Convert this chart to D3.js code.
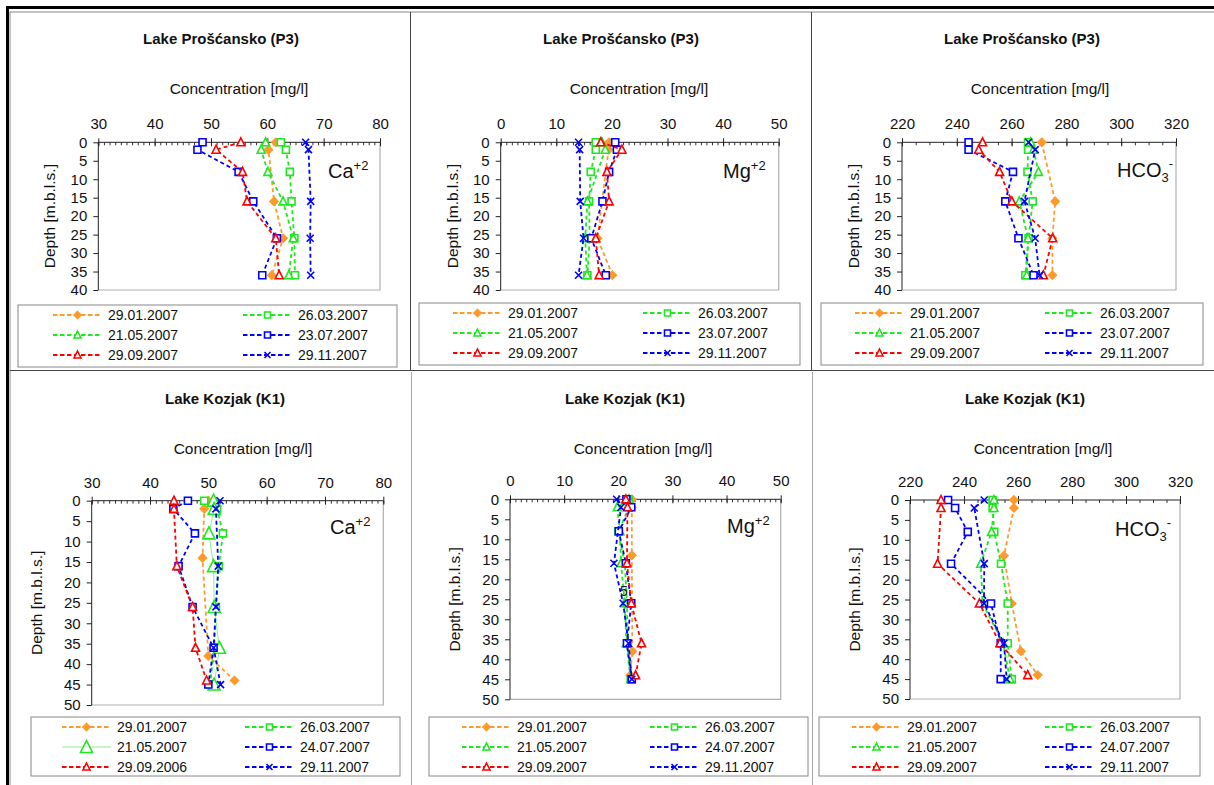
<!DOCTYPE html>
<html>
<head>
<meta charset="utf-8">
<script src="https://cdn.jsdelivr.net/npm/d3@7"></script>
<style>
  body { margin: 0; background: #fff; }
  text { font-family: "Liberation Sans", Arial, sans-serif; fill: #111; }
</style>
</head>
<body>
<svg id="chart" width="1214" height="785"></svg>
<script>
// ---- data ----
var datesP3 = ["29.01.2007", "26.03.2007", "21.05.2007", "23.07.2007", "29.09.2007", "29.11.2007"];
var datesK1Ca = ["29.01.2007", "26.03.2007", "21.05.2007", "24.07.2007", "29.09.2006", "29.11.2007"];
var datesK1 = ["29.01.2007", "26.03.2007", "21.05.2007", "24.07.2007", "29.09.2007", "29.11.2007"];

var depthP3 = [0, 2, 8, 16, 26, 36];
var depthK1 = [0, 2, 8, 14, 16, 26, 36, 38, 44, 45];

var caP3 = [
  [61.5, 60.2, null, 61.2, 62.8, 60.8],
  [62.4, 63.3, 64.0, 64.3, 64.8, 64.9],
  [59.7, 58.9, 60.1, 62.8, 64.6, 63.8],
  [48.5, 47.6, 54.9, 57.5, 61.7, 59.1],
  [55.3, 50.9, 55.6, 56.4, 61.5, 62.1],
  [66.8, 67.3, null, 67.7, 67.6, 67.7]
];
var mgP3 = [
  [19.5, 19.4, null, null, 17.4, 20.1],
  [17.1, 17.1, 16.2, 15.9, 16.0, 15.6],
  [18.2, 18.8, null, 15.6, 15.2, 15.5],
  [20.6, 20.9, 19.5, 18.3, 16.3, 18.9],
  [18.0, 21.8, 19.1, 19.5, 17.1, 17.7],
  [14.0, 14.2, null, 14.3, 14.9, 14.0]
];
var hco3P3 = [
  [271.0, null, null, 275.9, 274.9, 274.9],
  [266.0, 266.0, 265.8, 267.7, 266.2, 265.0],
  [267.0, 268.0, 269.8, 262.8, 266.0, 265.5],
  [244.3, 244.3, 260.5, 257.7, 262.5, 268.0],
  [249.4, 248.0, 255.6, 260.1, 275.0, 271.6],
  [266.2, 268.6, null, 264.7, 268.6, 270.2]
];

var caK1 = [
  [50.0, 49.3, null, 49.0, null, null, null, 50.0, 54.5, null],
  [49.3, 51.5, 52.5, null, 51.8, 51.3, 51.0, null, null, 50.3],
  [50.9, 51.0, 50.1, null, 50.9, 51.0, 51.9, null, null, 51.0],
  [46.5, 44.0, 47.7, null, 44.9, 47.3, 50.9, null, null, 50.0],
  [44.1, 44.1, null, null, 44.6, 47.3, 47.8, null, 49.7, null],
  [52.0, 51.3, null, null, 51.7, 51.3, 50.9, null, null, 52.1]
];
var mgK1 = [
  [22.5, 22.5, null, 22.5, null, null, null, 22.6, 22.2, null],
  [21.9, 22.0, 20.0, null, 21.2, 21.6, 21.7, null, null, 22.3],
  [22.0, 19.8, 20.3, null, 20.5, 21.2, 21.5, null, null, 22.3],
  [21.5, 22.4, 20.1, null, 21.4, 22.4, 21.6, null, null, 22.5],
  [21.4, 21.7, null, null, 21.6, 22.4, 24.3, null, 23.2, null],
  [19.7, 20.5, null, null, 19.2, 20.9, 21.9, null, null, 22.5]
];
var hco3K1 = [
  [258.5, 258.5, null, 254.8, null, 257.7, null, 261.1, 267.3, null],
  [250.6, 250.6, 251.2, null, 253.7, 256.2, 256.2, null, null, 257.7],
  [251.1, 251.1, 250.2, null, 246.2, 246.9, 254.5, null, null, 257.0],
  [234.1, 236.7, 241.4, null, 235.2, 250.0, 253.6, null, null, 253.6],
  [231.5, 231.5, null, null, 230.2, 245.7, 253.3, null, 263.6, null],
  [247.5, 243.8, null, null, 247.5, 247.4, 254.8, null, null, 255.8]
];

var caTicks = [30, 40, 50, 60, 70, 80];
var mgTicks = [0, 10, 20, 30, 40, 50];
var hco3Ticks = [220, 240, 260, 280, 300, 320];

// ---- styles ----
var ORANGE = "#ff9a2a", GREEN = "#1ee81e", BLUE = "#0000ff", RED = "#ff0000";
var seriesStyle = [
  {color: ORANGE, marker: "diamond", fill: ORANGE},
  {color: GREEN, marker: "square", fill: "#fff"},
  {color: GREEN, marker: "triangle", fill: "#fff"},
  {color: BLUE, marker: "square", fill: "#fff"},
  {color: RED, marker: "triangle", fill: "#fff"},
  {color: BLUE, marker: "x", fill: "none"}
];

var svg = d3.select("#chart");

// frames
var frames = svg.append("g");
frames.append("rect").attr("x", 10).attr("y", 12).attr("width", 1210).attr("height", 780)
  .attr("fill", "none").attr("stroke", "#888").attr("stroke-width", 1);
[410.5, 811.5].forEach(function(x) {
  frames.append("line").attr("x1", x).attr("x2", x).attr("y1", 12).attr("y2", 370)
    .attr("stroke", "#444");
  frames.append("line").attr("x1", x + 1).attr("x2", x + 1).attr("y1", 372).attr("y2", 785)
    .attr("stroke", "#aaa");
});
frames.append("line").attr("x1", 10).attr("x2", 1214).attr("y1", 370.5).attr("y2", 370.5)
  .attr("stroke", "#444");
frames.append("line").attr("x1", 6).attr("x2", 1214).attr("y1", 7.5).attr("y2", 7.5)
  .attr("stroke", "#000").attr("stroke-width", 3);
frames.append("line").attr("x1", 7.5).attr("x2", 7.5).attr("y1", 6).attr("y2", 785)
  .attr("stroke", "#000").attr("stroke-width", 3);

function markerPath(type, size) {
  var s = size / 2;
  if (type === "diamond") return "M0," + (-s - 0.5) + "L" + (s + 0.5) + ",0L0," + (s + 0.5) + "L" + (-s - 0.5) + ",0Z";
  if (type === "square") return "M" + (-s) + "," + (-s) + "H" + s + "V" + s + "H" + (-s) + "Z";
  if (type === "triangle") return "M0," + (-s - 1) + "L" + (s + 0.5) + "," + s + "L" + (-s - 0.5) + "," + s + "Z";
  return "M" + (-s) + "," + (-s) + "L" + s + "," + s + "M" + (-s) + "," + s + "L" + s + "," + (-s);
}

function ionLabel(g, x, y, base, sub, sup) {
  var t = g.append("text").attr("x", x).attr("y", y).attr("font-size", 20);
  t.append("tspan").text(base);
  if (sub) t.append("tspan").attr("font-size", 13).attr("dy", 5).text(sub);
  if (sup) t.append("tspan").attr("font-size", 13).attr("dy", sub ? -14 : -8).text(sup);
}

function drawPanel(p) {
  var g = svg.append("g");
  var x = d3.scaleLinear().domain(p.xDomain).range([p.x0, p.x1]);
  var y = d3.scaleLinear().domain([0, p.yMax]).range([p.y0, p.y1]);

  g.append("text").attr("x", p.titleX).attr("y", p.top + 32).attr("text-anchor", "middle")
    .attr("font-size", 15).attr("font-weight", "bold").text(p.title);
  g.append("text").attr("x", p.titleX + 18).attr("y", p.top + 82).attr("text-anchor", "middle")
    .attr("font-size", 15.5).text("Concentration [mg/l]");
  g.append("text")
    .attr("transform", "translate(" + (p.x0 - (p.depthDx || 43)) + "," + ((p.y0 + p.y1) / 2) + ") rotate(-90)")
    .attr("text-anchor", "middle").attr("font-size", 15.5).text("Depth [m.b.l.s.]");

  // plot frame (right + bottom)
  g.append("path").attr("d", "M" + p.x1 + "," + p.y0 + "V" + p.y1 + "H" + p.x0)
    .attr("fill", "none").attr("stroke", "#b0b0b0").attr("stroke-width", 1.2);

  // x axis on top
  var xa = g.append("g").attr("transform", "translate(0," + p.y0 + ")")
    .call(d3.axisTop(x).tickValues(d3.range(p.xDomain[0], p.xDomain[1] + 0.001, p.minor)).tickSize(0).tickFormat(""));
  xa.select(".domain").remove();
  xa.selectAll(".tick line").attr("y2", 3).attr("stroke", "#333");
  var xm = g.append("g").attr("transform", "translate(0," + p.y0 + ")")
    .call(d3.axisTop(x).tickValues(p.ticks).tickSize(4).tickPadding(9));
  xm.selectAll(".tick line").attr("y2", -4).attr("y1", 4).attr("stroke", "#222");
  xm.select(".domain").attr("stroke", "#222").attr("d", "M" + p.x0 + ",0H" + p.x1);
  xm.selectAll(".tick text").attr("font-size", 15).attr("font-family", "Liberation Sans, Arial, sans-serif").attr("fill", "#111");

  // y axis
  var ya = g.append("g").attr("transform", "translate(" + p.x0 + ",0)")
    .call(d3.axisLeft(y).tickValues(d3.range(0, p.yMax + 1, 5)).tickSize(5).tickPadding(6));
  ya.select(".domain").attr("stroke", "#222").attr("d", "M0," + p.y0 + "V" + p.y1);
  ya.selectAll(".tick line").attr("stroke", "#222");
  ya.selectAll(".tick text").attr("font-size", 15).attr("font-family", "Liberation Sans, Arial, sans-serif").attr("fill", "#111");

  // series
  p.values.forEach(function(vals, i) {
    var st = seriesStyle[i];
    var thin = p.thinIndex === i;
    var pts = [];
    vals.forEach(function(v, j) { if (v !== null) pts.push([v, p.depths[j]]); });
    var line = d3.line().x(function(d) { return x(d[0]); }).y(function(d) { return y(d[1]); });
    g.append("path").datum(pts).attr("d", line).attr("fill", "none")
      .attr("stroke", thin ? "#8fef8f" : st.color)
      .attr("stroke-width", thin ? 1 : 1.8)
      .attr("stroke-dasharray", thin ? null : "4,3");
    g.selectAll(null).data(pts).enter().append("path")
      .attr("transform", function(d) { return "translate(" + x(d[0]) + "," + y(d[1]) + ")"; })
      .attr("d", markerPath(st.marker, thin ? 11 : 7))
      .attr("fill", st.fill).attr("stroke", st.color).attr("stroke-width", 1.6);
  });

  ionLabel(g, p.ionX, p.ionY, p.ion[0], p.ion[1], p.ion[2]);

  // legend
  var L = p.legend;
  g.append("rect").attr("x", L.x).attr("y", L.y).attr("width", L.w).attr("height", L.h)
    .attr("fill", "#fff").attr("stroke", "#888");
  p.dates.forEach(function(dt, i) {
    var st = seriesStyle[i];
    var thin = p.thinIndex === i;
    var col = i % 2, row = Math.floor(i / 2);
    var sx = L.x + L.sx[col], sy = L.y + 10 + row * 20;
    g.append("line").attr("x1", sx).attr("x2", sx + 49).attr("y1", sy).attr("y2", sy)
      .attr("stroke", thin ? "#8fef8f" : st.color).attr("stroke-width", thin ? 1 : 1.8)
      .attr("stroke-dasharray", thin ? null : "4.5,2.5");
    g.append("path").attr("transform", "translate(" + (sx + 24.5) + "," + sy + ")")
      .attr("d", markerPath(st.marker, thin ? 11 : 6))
      .attr("fill", st.fill).attr("stroke", st.color).attr("stroke-width", 1.6);
    g.append("text").attr("x", sx + 55).attr("y", sy + 5).attr("font-size", 14).text(dt);
  });
}

var P3 = "Lake Prošćansko (P3)", K1 = "Lake Kozjak (K1)";
var panels = [
  {title: P3, top: 12, titleX: 221, x0: 98.3, x1: 380, y0: 142.3, y1: 290, yMax: 40,
   xDomain: [30, 80], ticks: caTicks, minor: 1, depths: depthP3, values: caP3, dates: datesP3,
   ion: ["Ca", null, "+2"], ionX: 328, ionY: 178,
   legend: {x: 18, y: 305, w: 379, h: 62, sx: [35, 225]}},
  {title: P3, top: 12, titleX: 621, x0: 500.7, x1: 778.7, y0: 142.3, y1: 290, yMax: 40,
   xDomain: [0, 50], ticks: mgTicks, minor: 1, depths: depthP3, values: mgP3, dates: datesP3,
   ion: ["Mg", null, "+2"], ionX: 723, ionY: 178,
   legend: {x: 419, y: 303, w: 381, h: 62, sx: [34, 224]}},
  {title: P3, top: 12, titleX: 1022, x0: 902, x1: 1176, y0: 142.3, y1: 290, yMax: 40,
   xDomain: [220, 320], ticks: hco3Ticks, minor: 5, depths: depthP3, values: hco3P3, dates: datesP3,
   ion: ["HCO", "3", "-"], ionX: 1117, ionY: 177,
   legend: {x: 821, y: 303, w: 382, h: 62, sx: [34, 224]}},
  {title: K1, top: 372, titleX: 225, x0: 91.7, x1: 383.3, y0: 500.7, y1: 705, yMax: 50, depthDx: 50,
   xDomain: [30, 80], ticks: caTicks, minor: 1, depths: depthK1, values: caK1, dates: datesK1Ca,
   ion: ["Ca", null, "+2"], ionX: 330, ionY: 534, thinIndex: 2,
   legend: {x: 31, y: 717, w: 369, h: 59, sx: [31, 214]}},
  {title: K1, top: 372, titleX: 625, x0: 510, x1: 780.7, y0: 499.3, y1: 699.3, yMax: 50, depthDx: 50,
   xDomain: [0, 50], ticks: mgTicks, minor: 1, depths: depthK1, values: mgK1, dates: datesK1,
   ion: ["Mg", null, "+2"], ionX: 727, ionY: 533,
   legend: {x: 429, y: 717, w: 379, h: 59, sx: [33, 221]}},
  {title: K1, top: 372, titleX: 1025, x0: 910, x1: 1180, y0: 500, y1: 699, yMax: 50, depthDx: 50,
   xDomain: [220, 320], ticks: hco3Ticks, minor: 5, depths: depthK1, values: hco3K1, dates: datesK1,
   ion: ["HCO", "3", "-"], ionX: 1115, ionY: 536,
   legend: {x: 819, y: 717, w: 381, h: 59, sx: [33, 226]}}
];
panels.forEach(drawPanel);

// stray label seen inside the Mg plot of Lake Kozjak
svg.append("text").attr("x", 620).attr("y", 596).attr("font-size", 14).text("5");
</script>
</body>
</html>
